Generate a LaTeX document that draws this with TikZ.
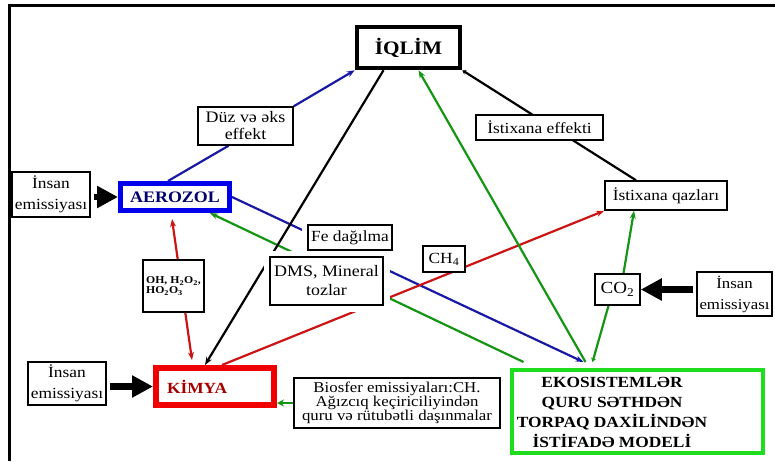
\documentclass[tikz,border=0pt]{standalone}
\usepackage{fontspec}
\setmainfont{Liberation Serif}[FakeStretch=1.12]
\usetikzlibrary{arrows.meta,backgrounds,positioning}

\definecolor{lineblue}{RGB}{25,25,165}
\definecolor{linegreen}{RGB}{20,150,20}
\definecolor{linered}{RGB}{205,20,20}
\definecolor{aeroblue}{RGB}{0,0,235}
\definecolor{aerotext}{RGB}{0,0,110}
\definecolor{kimred}{RGB}{240,0,0}
\definecolor{kimtext}{RGB}{165,0,0}
\definecolor{ekogreen}{RGB}{30,220,30}

\tikzstyle{textbox} = [rectangle, draw, fill=white, line width=1.5pt, align=center, inner sep=2pt, font=\fontsize{15.5}{18}\selectfont]
\tikzstyle{halobox} = [textbox, preaction={draw=white, fill=white, line width=13pt}]
\tikzstyle{mainbox} = [rectangle, draw, fill=white, align=center, font=\bfseries\fontsize{16}{20}\selectfont]
\tikzstyle{link} = [line width=2.2pt, -{Stealth[length=8pt,width=6pt]}]
\tikzstyle{twolink} = [line width=2.2pt, {Stealth[length=8pt,width=6pt]}-{Stealth[length=8pt,width=6pt]}]
\tikzstyle{fatarrow} = [line width=6.5pt, shorten <=3pt, -{Triangle[length=21pt,width=21pt]}]

\begin{document}
\begin{tikzpicture}[x=1pt, y=-1pt, thick]
        \useasboundingbox (0,0) rectangle (775,461);
        \draw[line width=3pt] (775,5.5) -- (9,5.5) -- (9,461);

        % main blocks
        \node[mainbox, line width=4.5pt, minimum width=103pt, minimum height=41pt, font=\bfseries\fontsize{19}{20}\selectfont] (iqlim) at (408.5,47.5) {İQLİM};
        \node[mainbox, draw=aeroblue, text=aerotext, line width=5pt, minimum width=109pt, minimum height=27pt] (aerozol) at (175,197) {AEROZOL};
        \node[mainbox, draw=kimred, text=kimtext, line width=6pt, minimum width=118pt, minimum height=37pt, text width=96pt, align=left, font=\bfseries\fontsize{15.5}{18}\selectfont] (kimya) at (215,386.5) {KİMYA};
        \node[mainbox, draw=ekogreen, line width=4pt, outer sep=8pt, minimum width=251pt, minimum height=83pt] (eko) at (637.5,411.5) {};
        \node[align=center, font=\bfseries\fontsize{15.5}{20}\selectfont] (eko-text) at (612,412) {EKOSISTEMLƏR\\QURU SƏTHDƏN\\TORPAQ DAXİLİNDƏN\\İSTİFADƏ MODELİ};

        % labels and sources
        \node[textbox, minimum width=78pt, minimum height=45pt, font=\fontsize{15.5}{21}\selectfont] (insan1) at (51,194.5) {İnsan\\emissiyası};
        \node[textbox, minimum width=95pt, minimum height=38pt, font=\fontsize{16}{17}\selectfont] (duz) at (245.5,126) {Düz və əks\\effekt};
        \node[halobox, minimum width=84pt, minimum height=25pt] (fe) at (350,237.5) {Fe dağılma};
        \node[halobox, minimum width=113pt, minimum height=48pt, font=\fontsize{16}{19}\selectfont] (dms) at (326.5,281) {DMS, Mineral\\tozlar};
        \node[textbox, minimum width=61pt, minimum height=52pt, align=left, font=\bfseries\fontsize{10.5}{10}\selectfont] (oh) at (173.5,286) {OH, H\textsubscript{2}O\textsubscript{2},\\HO\textsubscript{2}O\textsubscript{3}};
        \node[textbox, minimum width=78pt, minimum height=43pt, font=\fontsize{15.5}{21}\selectfont] (insan2) at (67,383.5) {İnsan\\emissiyası};
        \node[textbox, minimum width=42pt, minimum height=26pt] (ch4) at (444,259) {CH\textsubscript{4}};
        \node[textbox, minimum width=122pt, minimum height=29pt] (qazlar) at (666,195.5) {İstixana qazları};
        \node[textbox, minimum width=127pt, minimum height=25pt] (effekt) at (539.5,127.5) {İstixana effekti};
        \node[textbox, minimum width=45pt, minimum height=31pt, font=\fontsize{17}{19}\selectfont] (co2) at (617.5,289.5) {CO\textsubscript{2}};
        \node[textbox, minimum width=75pt, minimum height=44pt, font=\fontsize{15}{21}\selectfont] (insan3) at (734.5,294) {İnsan\\emissiyası};
        \node[textbox, minimum width=206pt, minimum height=50pt, font=\fontsize{15}{14}\selectfont] (bio) at (397,403) {Biosfer emissiyaları:CH.\\Ağızcıq keçiriciliyindən\\quru və rütubətli daşınmalar};

        \draw[fatarrow] (insan1.east |- aerozol) -- (aerozol.west);
        \draw[fatarrow] (insan2.east |- kimya) -- (kimya.west);
        \draw[fatarrow] (insan3.west |- co2) -- (co2.east);

        \begin{scope}[on background layer]
        \draw[link, lineblue, -] ([xshift=-7pt]aerozol.north) -- ([xshift=-17pt]duz.south);
        \draw[link, lineblue] (duz.north east) -- (iqlim.south west);
        \draw[link, lineblue] (aerozol.east) -- ([xshift=-54pt]eko.north);
        \draw[link, linegreen] ([xshift=-114pt]eko.north) -- ([xshift=35pt]aerozol.south);
        \draw[link, black] ([xshift=-25pt]iqlim.south) -- ([xshift=-10pt]kimya.north);
        \draw[twolink, linered] ([xshift=-3pt,yshift=-6pt]aerozol.south) -- ([xshift=-23pt,yshift=5pt]kimya.north);
        \draw[link, linered] ([xshift=7pt]kimya.north) -- (qazlar.south west);
        \draw[link, linegreen] ([xshift=-52pt]eko.north) -- ([xshift=10pt]iqlim.south);
        \draw[link, linegreen, -{Stealth[length=4pt,width=5pt]}] ([xshift=-9pt]co2.south) -- ([xshift=-45pt]eko.north);
        \draw[link, linegreen] ([xshift=6pt]co2.north) -- ([xshift=-32pt]qazlar.south);
        \draw[link, black, -{Stealth[length=4pt,width=5pt]}] ([xshift=-30pt]qazlar.north) -- (iqlim.south east);
        \draw[link, linegreen, -{Stealth[length=7pt,width=7pt]}] (bio.west) -- (bio.west -| kimya.east);
        \end{scope}

    \end{tikzpicture}
\end{document}
